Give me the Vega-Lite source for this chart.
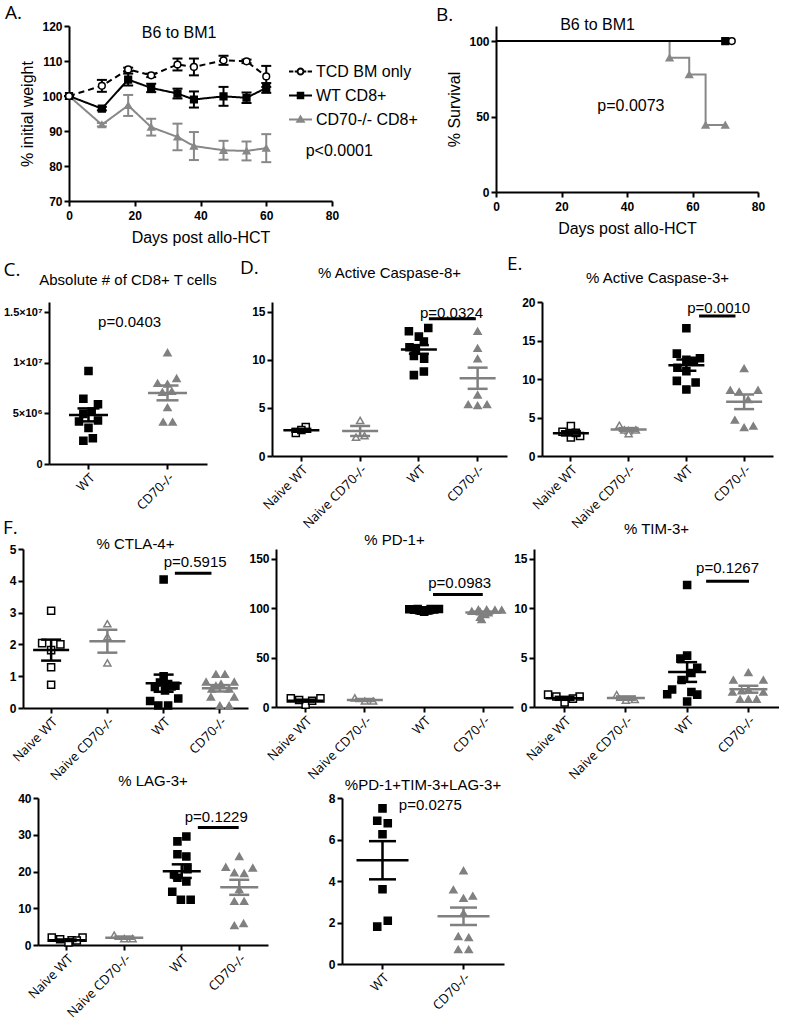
{
"$schema":"https://vega.github.io/schema/vega-lite/v6.json",
"background":"white",
"padding":{"left":0,"top":4,"right":0,"bottom":0},
"config":{
 "view":{"stroke":null},
 "axis":{"domainColor":"black","domainWidth":2,"tickColor":"black","tickWidth":2,"tickSize":5,"labelFont":"Liberation Sans","labelFontSize":12,"labelFontWeight":"bold","labelColor":"black","labelPadding":2,"labelOverlap":false,"labelFlush":false,"tickCount":20,"titleFont":"Liberation Sans","titleFontSize":16,"titleFontWeight":"normal","titleColor":"black","grid":false,"titlePadding":6},
 "title":{"font":"Liberation Sans","fontSize":15,"fontWeight":"normal","color":"black","offset":8},
 "text":{"font":"Liberation Sans","color":"black"},
 "point":{"opacity":1},
 "tick":{"opacity":1}
},
"resolve":{"scale":{"color":"independent","fill":"independent","stroke":"independent","shape":"independent","strokeDash":"independent","xOffset":"independent"}},
"datasets":{
 "weight":[
  {"g":"CD70-/- CD8+","d":0,"v":100,"e":0},{"g":"CD70-/- CD8+","d":10,"v":91.8,"e":0.5},{"g":"CD70-/- CD8+","d":18,"v":97.3,"e":3.0},{"g":"CD70-/- CD8+","d":25,"v":91.1,"e":2.4},{"g":"CD70-/- CD8+","d":33,"v":88.3,"e":3.8},{"g":"CD70-/- CD8+","d":38,"v":85.7,"e":4.0},{"g":"CD70-/- CD8+","d":47,"v":84.5,"e":2.7},{"g":"CD70-/- CD8+","d":54,"v":84.3,"e":2.7},{"g":"CD70-/- CD8+","d":60,"v":85.1,"e":4.0},
  {"g":"WT CD8+","d":0,"v":100,"e":0},{"g":"WT CD8+","d":10,"v":96.4,"e":0.5},{"g":"WT CD8+","d":18,"v":104.7,"e":1.7},{"g":"WT CD8+","d":25,"v":102.3,"e":1.2},{"g":"WT CD8+","d":33,"v":100.7,"e":1.4},{"g":"WT CD8+","d":38,"v":99.0,"e":2.3},{"g":"WT CD8+","d":47,"v":99.9,"e":2.7},{"g":"WT CD8+","d":54,"v":99.5,"e":1.5},{"g":"WT CD8+","d":60,"v":102.3,"e":1.4},
  {"g":"TCD BM only","d":0,"v":100,"e":0},{"g":"TCD BM only","d":10,"v":102.9,"e":1.7},{"g":"TCD BM only","d":18,"v":107.6,"e":0.5},{"g":"TCD BM only","d":25,"v":105.9,"e":0.5},{"g":"TCD BM only","d":33,"v":109.0,"e":1.7},{"g":"TCD BM only","d":38,"v":108.3,"e":2.4},{"g":"TCD BM only","d":47,"v":110.2,"e":1.3},{"g":"TCD BM only","d":54,"v":109.9,"e":0.5},{"g":"TCD BM only","d":60,"v":105.6,"e":3.0}
 ],
 "surv":[
  {"g":"CD70-/- CD8+","d":0,"s":100},{"g":"CD70-/- CD8+","d":53,"s":88.9},{"g":"CD70-/- CD8+","d":59,"s":77.8},{"g":"CD70-/- CD8+","d":64,"s":44.4},{"g":"CD70-/- CD8+","d":70,"s":44.4},
  {"g":"TCD BM only","d":0,"s":100},{"g":"TCD BM only","d":72,"s":100},
  {"g":"WT CD8+","d":0,"s":100},{"g":"WT CD8+","d":70,"s":100}
 ],
 "survpts":[
  {"g":"CD70-/- CD8+","d":53,"s":88.9},{"g":"CD70-/- CD8+","d":59,"s":77.8},{"g":"CD70-/- CD8+","d":64,"s":44.4},{"g":"CD70-/- CD8+","d":70,"s":44.4},
  {"g":"TCD BM only","d":72,"s":100},{"g":"WT CD8+","d":70,"s":100}
 ],
 "c_pts":[
  {"g":"WT","v":9190000,"j":0},{"g":"WT","v":6450000,"j":-0.13},{"g":"WT","v":5900000,"j":0.24},{"g":"WT","v":5170000,"j":0.08},{"g":"WT","v":4950000,"j":-0.13},{"g":"WT","v":4200000,"j":-0.24},{"g":"WT","v":4300000,"j":0.24},{"g":"WT","v":3570000,"j":0},{"g":"WT","v":2550000,"j":0.11},{"g":"WT","v":2300000,"j":-0.13},
  {"g":"CD70-/-","v":11000000,"j":0},{"g":"CD70-/-","v":7980000,"j":-0.25},{"g":"CD70-/-","v":7900000,"j":0},{"g":"CD70-/-","v":8460000,"j":0.23},{"g":"CD70-/-","v":7180000,"j":0.11},{"g":"CD70-/-","v":7090000,"j":-0.13},{"g":"CD70-/-","v":5580000,"j":0},{"g":"CD70-/-","v":4150000,"j":-0.11},{"g":"CD70-/-","v":4150000,"j":0.13}
 ],
 "c_sum":[{"g":"WT","m":4850000,"se":640000},{"g":"CD70-/-","m":7020000,"se":730000}],
 "d_pts":[
  {"g":"Naive WT","v":2.4,"j":-0.19},{"g":"Naive WT","v":3.0,"j":0.15},{"g":"Naive WT","v":2.7,"j":0},
  {"g":"Naive CD70-/-","v":3.7,"j":0},{"g":"Naive CD70-/-","v":1.95,"j":-0.14},{"g":"Naive CD70-/-","v":2.1,"j":0.15},
  {"g":"WT","v":12.96,"j":-0.34},{"g":"WT","v":13.3,"j":0.32},{"g":"WT","v":12.4,"j":0},{"g":"WT","v":11.9,"j":0.17},{"g":"WT","v":11.3,"j":-0.32},{"g":"WT","v":11.2,"j":-0.11},{"g":"WT","v":10.4,"j":-0.17},{"g":"WT","v":10.1,"j":0.18},{"g":"WT","v":8.77,"j":0.17},{"g":"WT","v":8.4,"j":-0.17},
  {"g":"CD70-/-","v":12.96,"j":0},{"g":"CD70-/-","v":11.2,"j":0},{"g":"CD70-/-","v":10.1,"j":0},{"g":"CD70-/-","v":6.35,"j":0},{"g":"CD70-/-","v":5.35,"j":-0.32},{"g":"CD70-/-","v":5.25,"j":0},{"g":"CD70-/-","v":5.35,"j":0.32}
 ],
 "d_sum":[{"g":"Naive WT","m":2.67,"se":0.15},{"g":"Naive CD70-/-","m":2.6,"se":0.52},{"g":"WT","m":11.07,"se":0.45},{"g":"CD70-/-","m":8.08,"se":1.1}],
 "e_pts":[
  {"g":"Naive WT","v":3.9,"j":0},{"g":"Naive WT","v":3.15,"j":-0.29},{"g":"Naive WT","v":2.6,"j":0.32},{"g":"Naive WT","v":2.4,"j":0},{"g":"Naive WT","v":3.0,"j":0.17},
  {"g":"Naive CD70-/-","v":4.0,"j":-0.32},{"g":"Naive CD70-/-","v":3.3,"j":0},{"g":"Naive CD70-/-","v":3.4,"j":-0.15},{"g":"Naive CD70-/-","v":2.9,"j":0},{"g":"Naive CD70-/-","v":3.4,"j":0.25},
  {"g":"WT","v":16.6,"j":0},{"g":"WT","v":13.3,"j":-0.33},{"g":"WT","v":12.7,"j":0.47},{"g":"WT","v":12.35,"j":0.26},{"g":"WT","v":12.5,"j":0},{"g":"WT","v":11.45,"j":-0.31},{"g":"WT","v":11.0,"j":0},{"g":"WT","v":9.76,"j":-0.33},{"g":"WT","v":9.55,"j":0.32},{"g":"WT","v":8.64,"j":0},
  {"g":"CD70-/-","v":11.36,"j":0},{"g":"CD70-/-","v":8.55,"j":-0.48},{"g":"CD70-/-","v":8.34,"j":-0.17},{"g":"CD70-/-","v":8.55,"j":0.48},{"g":"CD70-/-","v":7.34,"j":0.14},{"g":"CD70-/-","v":4.67,"j":-0.32},{"g":"CD70-/-","v":3.7,"j":0},{"g":"CD70-/-","v":3.9,"j":0.32}
 ],
 "e_sum":[{"g":"Naive WT","m":2.94,"se":0.27},{"g":"Naive CD70-/-","m":3.45,"se":0.18},{"g":"WT","m":11.8,"se":0.73},{"g":"CD70-/-","m":7.04,"se":0.95}],
 "ctla_pts":[
  {"g":"Naive WT","v":3.06,"j":0},{"g":"Naive WT","v":2.04,"j":-0.32},{"g":"Naive WT","v":2.0,"j":0.33},{"g":"Naive WT","v":1.82,"j":0},{"g":"Naive WT","v":1.28,"j":0},{"g":"Naive WT","v":0.73,"j":0},
  {"g":"Naive CD70-/-","v":2.65,"j":0},{"g":"Naive CD70-/-","v":2.24,"j":0},{"g":"Naive CD70-/-","v":1.42,"j":0},
  {"g":"WT","v":4.04,"j":0},{"g":"WT","v":1.0,"j":0},{"g":"WT","v":0.8,"j":-0.13},{"g":"WT","v":0.75,"j":0.16},{"g":"WT","v":0.7,"j":0.42},{"g":"WT","v":0.66,"j":-0.31},{"g":"WT","v":0.55,"j":0.05},{"g":"WT","v":0.3,"j":0.52},{"g":"WT","v":0.22,"j":-0.48},{"g":"WT","v":0.08,"j":-0.19},{"g":"WT","v":0.08,"j":0.16},{"g":"WT","v":0.68,"j":0.28},
  {"g":"CD70-/-","v":1.06,"j":-0.14},{"g":"CD70-/-","v":1.06,"j":0.18},{"g":"CD70-/-","v":0.82,"j":-0.49},{"g":"CD70-/-","v":0.82,"j":0.51},{"g":"CD70-/-","v":0.76,"j":0.04},{"g":"CD70-/-","v":0.6,"j":-0.29},{"g":"CD70-/-","v":0.6,"j":0.33},{"g":"CD70-/-","v":0.35,"j":-0.32},{"g":"CD70-/-","v":0.35,"j":0.51},{"g":"CD70-/-","v":0.08,"j":0},{"g":"CD70-/-","v":0.08,"j":0.33},{"g":"CD70-/-","v":0.7,"j":-0.14}
 ],
 "ctla_sum":[{"g":"Naive WT","m":1.82,"se":0.33},{"g":"Naive CD70-/-","m":2.1,"se":0.36},{"g":"WT","m":0.78,"se":0.27},{"g":"CD70-/-","m":0.62,"se":0.1}],
 "pd1_pts":[
  {"g":"Naive WT","v":8.7,"j":-0.5},{"g":"Naive WT","v":8.7,"j":0.5},{"g":"Naive WT","v":2.2,"j":0},{"g":"Naive WT","v":7.0,"j":-0.22},{"g":"Naive WT","v":6.4,"j":0.22},
  {"g":"Naive CD70-/-","v":9.3,"j":-0.34},{"g":"Naive CD70-/-","v":6.1,"j":0},{"g":"Naive CD70-/-","v":6.1,"j":0.28},
  {"g":"WT","v":99,"j":-0.5},{"g":"WT","v":98.5,"j":-0.34},{"g":"WT","v":98,"j":-0.17},{"g":"WT","v":97.2,"j":0},{"g":"WT","v":98,"j":0.17},{"g":"WT","v":98.7,"j":0.34},{"g":"WT","v":99.2,"j":0.5},{"g":"WT","v":99.3,"j":-0.22},{"g":"WT","v":99.1,"j":0.22},{"g":"WT","v":96.5,"j":0},{"g":"WT","v":97.6,"j":-0.11},{"g":"WT","v":97.8,"j":0.11},
  {"g":"CD70-/-","v":98.6,"j":0.11},{"g":"CD70-/-","v":98.6,"j":-0.17},{"g":"CD70-/-","v":98.4,"j":0.39},{"g":"CD70-/-","v":98.2,"j":0.62},{"g":"CD70-/-","v":97,"j":-0.39},{"g":"CD70-/-","v":96.5,"j":-0.11},{"g":"CD70-/-","v":95.5,"j":0.17},{"g":"CD70-/-","v":93.8,"j":0.06},{"g":"CD70-/-","v":91,"j":-0.11},{"g":"CD70-/-","v":88.7,"j":-0.06}
 ],
 "pd1_sum":[{"g":"Naive WT","m":6.4,"se":1.0},{"g":"Naive CD70-/-","m":7.1,"se":1.0},{"g":"WT","m":98.3,"se":0.3},{"g":"CD70-/-","m":95.6,"se":1.0}],
 "tim_pts":[
  {"g":"Naive WT","v":1.25,"j":-0.54},{"g":"Naive WT","v":1.07,"j":-0.27},{"g":"Naive WT","v":1.07,"j":0.49},{"g":"Naive WT","v":0.46,"j":0},{"g":"Naive WT","v":0.85,"j":0.27},
  {"g":"Naive CD70-/-","v":1.25,"j":-0.3},{"g":"Naive CD70-/-","v":0.7,"j":0},{"g":"Naive CD70-/-","v":0.76,"j":0.29},
  {"g":"WT","v":12.35,"j":0},{"g":"WT","v":5.2,"j":0},{"g":"WT","v":4.9,"j":-0.22},{"g":"WT","v":3.96,"j":0.33},{"g":"WT","v":3.44,"j":0.14},{"g":"WT","v":2.74,"j":-0.18},{"g":"WT","v":1.77,"j":-0.49},{"g":"WT","v":1.52,"j":0.14},{"g":"WT","v":1.25,"j":0.33},{"g":"WT","v":1.3,"j":-0.65},{"g":"WT","v":0.55,"j":0},
  {"g":"CD70-/-","v":3.5,"j":0},{"g":"CD70-/-","v":2.74,"j":-0.49},{"g":"CD70-/-","v":2.74,"j":0.49},{"g":"CD70-/-","v":1.52,"j":-0.52},{"g":"CD70-/-","v":1.52,"j":0.49},{"g":"CD70-/-","v":0.8,"j":-0.27},{"g":"CD70-/-","v":0.8,"j":0},{"g":"CD70-/-","v":0.8,"j":0.27},{"g":"CD70-/-","v":1.77,"j":0},{"g":"CD70-/-","v":1.65,"j":-0.22}
 ],
 "tim_sum":[{"g":"Naive WT","m":0.88,"se":0.15},{"g":"Naive CD70-/-","m":0.9,"se":0.17},{"g":"WT","m":3.54,"se":1.0},{"g":"CD70-/-","m":1.8,"se":0.35}],
 "lag_pts":[
  {"g":"Naive WT","v":2.0,"j":-0.52},{"g":"Naive WT","v":2.0,"j":0.55},{"g":"Naive WT","v":1.57,"j":-0.23},{"g":"Naive WT","v":1.3,"j":0.17},{"g":"Naive WT","v":0.7,"j":0.06},{"g":"Naive WT","v":1.2,"j":0.35},
  {"g":"Naive CD70-/-","v":2.7,"j":-0.35},{"g":"Naive CD70-/-","v":1.75,"j":0},{"g":"Naive CD70-/-","v":1.75,"j":0.29},
  {"g":"WT","v":29.5,"j":0.16},{"g":"WT","v":28.2,"j":-0.15},{"g":"WT","v":24.7,"j":-0.15},{"g":"WT","v":24.1,"j":0.16},{"g":"WT","v":20.6,"j":0.2},{"g":"WT","v":19.2,"j":-0.27},{"g":"WT","v":18.3,"j":-0.15},{"g":"WT","v":17.3,"j":0.16},{"g":"WT","v":14.5,"j":-0.33},{"g":"WT","v":12.3,"j":-0.03},{"g":"WT","v":12.3,"j":0.31},
  {"g":"CD70-/-","v":24.1,"j":0},{"g":"CD70-/-","v":21.2,"j":-0.47},{"g":"CD70-/-","v":21.0,"j":0.47},{"g":"CD70-/-","v":19.7,"j":-0.17},{"g":"CD70-/-","v":19.5,"j":0.17},{"g":"CD70-/-","v":15.1,"j":0},{"g":"CD70-/-","v":11.9,"j":-0.17},{"g":"CD70-/-","v":11.9,"j":0.17},{"g":"CD70-/-","v":5.3,"j":-0.17},{"g":"CD70-/-","v":5.9,"j":0.15}
 ],
 "lag_sum":[{"g":"Naive WT","m":1.3,"se":0.2},{"g":"Naive CD70-/-","m":2.0,"se":0.3},{"g":"WT","m":20.1,"se":1.85},{"g":"CD70-/-","m":15.7,"se":2.05}],
 "tri_pts":[
  {"g":"WT","v":7.5,"j":0},{"g":"WT","v":6.9,"j":-0.13},{"g":"WT","v":6.78,"j":0.13},{"g":"WT","v":6.25,"j":0},{"g":"WT","v":3.6,"j":0},{"g":"WT","v":2.08,"j":0.13},{"g":"WT","v":1.8,"j":-0.13},
  {"g":"CD70-/-","v":4.5,"j":0},{"g":"CD70-/-","v":3.58,"j":-0.25},{"g":"CD70-/-","v":3.17,"j":0},{"g":"CD70-/-","v":3.28,"j":0.23},{"g":"CD70-/-","v":2.45,"j":0},{"g":"CD70-/-","v":1.33,"j":-0.13},{"g":"CD70-/-","v":1.28,"j":0.13},{"g":"CD70-/-","v":0.7,"j":-0.13},{"g":"CD70-/-","v":0.7,"j":0.13}
 ],
 "tri_sum":[{"g":"WT","m":5.0,"se":0.92},{"g":"CD70-/-","m":2.3,"se":0.42}]
},
"spacing":10,
"vconcat":[
 {"spacing":0,"resolve":{"scale":{"color":"independent","fill":"independent","stroke":"independent","shape":"independent","strokeDash":"independent","xOffset":"independent"}},"hconcat":[
  {"width":5,"height":1,"data":{"values":[]},"mark":"point","view":{"fill":"white","stroke":null}},
  {"hconcat":[
   {"width":263,"height":175,
    "title":{"text":"A.","anchor":"start","frame":"bounds","font":"Open Sans","fontSize":19,"dx":-14,"offset":-3},
    "resolve":{"scale":{"shape":"independent","fill":"independent","stroke":"independent"}},
    "layer":[
     {"data":{"name":"weight"},"mark":{"type":"line","strokeWidth":2},
      "encoding":{"x":{"field":"d","type":"quantitative","scale":{"domain":[0,80]},"axis":{"values":[0,20,40,60,80],"labelPadding":4,"titlePadding":8,"format":"d"},"title":"Days post allo-HCT"},
       "y":{"field":"v","type":"quantitative","scale":{"domain":[70,120]},"axis":{"values":[70,80,90,100,110,120],"format":"d","minExtent":28,"titlePadding":6,"labelOverlap":false,"tickCount":20},"title":"% initial weight"},
       "color":{"field":"g","type":"nominal","scale":{"domain":["TCD BM only","WT CD8+","CD70-/- CD8+"],"range":["black","black","#888888"]},"legend":null},
       "strokeDash":{"field":"g","type":"nominal","scale":{"domain":["TCD BM only","WT CD8+","CD70-/- CD8+"],"range":[[6,4],[1,0],[1,0]]},"legend":null}}},
     {"data":{"name":"weight"},"mark":{"type":"errorbar","thickness":2,"ticks":{"size":10,"thickness":2}},
      "encoding":{"x":{"field":"d","type":"quantitative","title":"Days post allo-HCT"},"y":{"field":"v","type":"quantitative","title":"% initial weight"},"yError":{"field":"e"},
       "color":{"field":"g","type":"nominal","legend":null}}},
     {"data":{"name":"weight"},"mark":{"type":"point","size":45,"strokeWidth":1.5},
      "encoding":{"x":{"field":"d","type":"quantitative","title":"Days post allo-HCT"},"y":{"field":"v","type":"quantitative","title":"% initial weight"},
       "shape":{"field":"g","type":"nominal","scale":{"domain":["TCD BM only","WT CD8+","CD70-/- CD8+"],"range":["circle","square","triangle-up"]},"legend":null},
       "fill":{"field":"g","type":"nominal","scale":{"domain":["TCD BM only","WT CD8+","CD70-/- CD8+"],"range":["white","black","#888888"]},"legend":null},
       "stroke":{"field":"g","type":"nominal","scale":{"domain":["TCD BM only","WT CD8+","CD70-/- CD8+"],"range":["black","black","#888888"]},"legend":null}}},
     {"data":{"values":[{}]},"mark":{"type":"text","fontSize":16},"encoding":{"x":{"datum":33.5},"y":{"datum":118},"text":{"value":"B6 to BM1"}}},
     {"data":{"values":[{}]},"mark":{"type":"text","fontSize":16,"align":"left"},"encoding":{"x":{"datum":72},"y":{"datum":84.3},"text":{"value":"p<0.0001"}}},
     {"data":{"values":[]},"mark":{"type":"point","strokeWidth":2},
      "encoding":{
       "shape":{"field":"g","type":"nominal","scale":{"domain":["TCD BM only","WT CD8+","CD70-/- CD8+"],"range":["M-1,0H-0.62M-0.5,0H-0.28M0.28,0H0.5M0.62,0H1M0.26,0A0.26,0.26,0,1,1,-0.26,0A0.26,0.26,0,1,1,0.26,0Z","M-1,0H1M-0.24,-0.24H0.24V0.24H-0.24Z","M-1,0H1M0,-0.27L0.28,0.2H-0.28Z"]},
        "legend":{"title":null,"orient":"none","legendX":219,"legendY":33,"symbolSize":529,"symbolStrokeWidth":2,"labelFont":"Liberation Sans","labelFontSize":16,"labelColor":"black","labelOffset":3,"rowPadding":3}},
       "fill":{"field":"g","type":"nominal","scale":{"domain":["TCD BM only","WT CD8+","CD70-/- CD8+"],"range":["white","black","#888888"]},
        "legend":{"title":null,"orient":"none","legendX":219,"legendY":33,"symbolSize":529,"symbolStrokeWidth":2,"labelFont":"Liberation Sans","labelFontSize":16,"labelColor":"black","labelOffset":3,"rowPadding":3}},
       "stroke":{"field":"g","type":"nominal","scale":{"domain":["TCD BM only","WT CD8+","CD70-/- CD8+"],"range":["black","black","#888888"]},
        "legend":{"title":null,"orient":"none","legendX":219,"legendY":33,"symbolSize":529,"symbolStrokeWidth":2,"labelFont":"Liberation Sans","labelFontSize":16,"labelColor":"black","labelOffset":3,"rowPadding":3}}}}
    ]},
   {"width":262,"height":166,
    "title":{"text":"B.","anchor":"start","frame":"bounds","font":"Open Sans","fontSize":19,"dx":-11,"offset":-8},
    "layer":[
     {"data":{"name":"surv"},"transform":[{"filter":"datum.g == 'CD70-/- CD8+'"}],"mark":{"type":"line","interpolate":"step-after","strokeWidth":2,"color":"#888888"},
      "encoding":{"x":{"field":"d","type":"quantitative","scale":{"domain":[0,80]},"axis":{"values":[0,20,40,60,80],"labelPadding":4,"titlePadding":8,"format":"d"},"title":"Days post allo-HCT"},
       "y":{"field":"s","type":"quantitative","scale":{"domain":[0,105]},"axis":{"values":[0,50,100],"format":"d","minExtent":26,"titlePadding":6,"labelOverlap":false,"tickCount":20},"title":"% Survival"},
       "detail":{"field":"g"}}},
     {"data":{"name":"surv"},"transform":[{"filter":"datum.g != 'CD70-/- CD8+'"}],"mark":{"type":"line","interpolate":"step-after","strokeWidth":2,"color":"black"},
      "encoding":{"x":{"field":"d","type":"quantitative","title":"Days post allo-HCT"},"y":{"field":"s","type":"quantitative","title":"% Survival"},"detail":{"field":"g"}}},
     {"data":{"name":"survpts"},"mark":{"type":"point","size":45,"strokeWidth":1.5},
      "encoding":{"x":{"field":"d","type":"quantitative","title":"Days post allo-HCT"},"y":{"field":"s","type":"quantitative","title":"% Survival"},
       "shape":{"field":"g","type":"nominal","scale":{"domain":["TCD BM only","WT CD8+","CD70-/- CD8+"],"range":["circle","square","triangle-up"]},"legend":null},
       "fill":{"field":"g","type":"nominal","scale":{"domain":["TCD BM only","WT CD8+","CD70-/- CD8+"],"range":["white","black","#888888"]},"legend":null},
       "stroke":{"field":"g","type":"nominal","scale":{"domain":["TCD BM only","WT CD8+","CD70-/- CD8+"],"range":["black","black","#888888"]},"legend":null}}},
     {"data":{"values":[{}]},"mark":{"type":"text","fontSize":16},"encoding":{"x":{"datum":31},"y":{"datum":110.9},"text":{"value":"B6 to BM1"}}},
     {"data":{"values":[{}]},"mark":{"type":"text","fontSize":16},"encoding":{"x":{"datum":41.2},"y":{"datum":57.2},"text":{"value":"p=0.0073"}}}
    ]}
  ],"spacing":17,"resolve":{"scale":{"color":"independent","fill":"independent","stroke":"independent","shape":"independent","strokeDash":"independent","xOffset":"independent"}}}
 ]},
 {"spacing":-12,"resolve":{"scale":{"color":"independent","fill":"independent","stroke":"independent","shape":"independent","xOffset":"independent"}},"vconcat":[
  {"spacing":0,"resolve":{"scale":{"color":"independent","fill":"independent","stroke":"independent","shape":"independent","xOffset":"independent"}},"hconcat":[
   {"width":3,"height":1,"data":{"values":[]},"mark":"point","view":{"fill":"white","stroke":null}},
   {"spacing":22,"resolve":{"scale":{"color":"independent","fill":"independent","stroke":"independent","shape":"independent","xOffset":"independent"}},"hconcat":[
    {"title":{"text":"C.","anchor":"start","frame":"bounds","font":"Open Sans","fontSize":19,"offset":-7},
     "resolve":{"scale":{"color":"independent","fill":"independent","stroke":"independent","shape":"independent","xOffset":"independent"}},
     "hconcat":[
     {"width":158,"height":162,"title":{"text":"Absolute # of CD8+ T cells","offset":14},
      "layer":[
       {"data":{"name":"c_pts"},"mark":{"type":"point","size":50,"strokeWidth":1.5},
        "encoding":{"x":{"field":"g","type":"nominal","scale":{"type":"band","domain":["WT","CD70-/-"],"paddingInner":0,"paddingOuter":0},"axis":{"labelAngle":-45,"labelFont":"Open Sans","labelFontWeight":"normal","labelFontSize":13},"title":null},
         "xOffset":{"field":"j","type":"quantitative","scale":{"domain":[-1,1]}},
         "y":{"field":"v","type":"quantitative","scale":{"domain":[0,15000000]},"axis":{"values":[0,5000000,10000000,15000000],"minExtent":44,"labelOverlap":false,"tickCount":20,"labelFontSize":11,"labelExpr":"datum.value == 0 ? '0' : datum.value == 5000000 ? '5×10⁶' : datum.value == 10000000 ? '1×10⁷' : '1.5×10⁷'"},"title":null},
         "shape":{"field":"g","type":"nominal","scale":{"domain":["Naive WT","Naive CD70-/-","WT","CD70-/-"],"range":["square","triangle-up","square","triangle-up"]},"legend":null},
         "fill":{"field":"g","type":"nominal","scale":{"domain":["Naive WT","Naive CD70-/-","WT","CD70-/-"],"range":["white","white","black","#808080"]},"legend":null},
         "stroke":{"field":"g","type":"nominal","scale":{"domain":["Naive WT","Naive CD70-/-","WT","CD70-/-"],"range":["black","#808080","black","#808080"]},"legend":null}}},
       {"data":{"name":"c_sum"},"mark":{"type":"errorbar","thickness":2.5,"ticks":{"size":22,"thickness":2.5}},
        "encoding":{"x":{"field":"g","type":"nominal","title":null},"y":{"field":"m","type":"quantitative","title":null},"yError":{"field":"se"},
         "color":{"field":"g","type":"nominal","scale":{"domain":["Naive WT","Naive CD70-/-","WT","CD70-/-"],"range":["black","#808080","black","#808080"]},"legend":null}}},
       {"data":{"name":"c_sum"},"mark":{"type":"tick","size":39,"thickness":2.5},
        "encoding":{"x":{"field":"g","type":"nominal","title":null},"y":{"field":"m","type":"quantitative","title":null},"color":{"field":"g","type":"nominal","legend":null}}},
       {"data":{"values":[{}]},"mark":{"type":"text","fontSize":15},"encoding":{"x":{"datum":"CD70-/-","bandPosition":0.02},"y":{"datum":14040000},"text":{"value":"p=0.0403"}}}
      ]}]},
    {"spacing":0,"resolve":{"scale":{"color":"independent","fill":"independent","stroke":"independent","shape":"independent","xOffset":"independent"}},"hconcat":[
     {"title":{"text":"D.","anchor":"start","frame":"bounds","font":"Open Sans","fontSize":19,"offset":-12,"dx":-11},
      "resolve":{"scale":{"color":"independent","fill":"independent","stroke":"independent","shape":"independent","xOffset":"independent"}},
      "hconcat":[
      {"width":235,"height":154,"title":{"text":"% Active Caspase-8+","offset":21},
       "layer":[
        {"data":{"name":"d_pts"},"mark":{"type":"point","size":50,"strokeWidth":1.5},
         "encoding":{"x":{"field":"g","type":"nominal","scale":{"type":"band","domain":["Naive WT","Naive CD70-/-","WT","CD70-/-"],"paddingInner":0,"paddingOuter":0},"axis":{"labelAngle":-45,"labelFont":"Open Sans","labelFontWeight":"normal","labelFontSize":13},"title":null},
          "xOffset":{"field":"j","type":"quantitative","scale":{"domain":[-1,1]}},
          "y":{"field":"v","type":"quantitative","scale":{"domain":[0,15]},"axis":{"values":[0,5,10,15],"format":"d","minExtent":21,"labelOverlap":false,"tickCount":20},"title":null},
          "shape":{"field":"g","type":"nominal","scale":{"domain":["Naive WT","Naive CD70-/-","WT","CD70-/-"],"range":["square","triangle-up","square","triangle-up"]},"legend":null},
          "fill":{"field":"g","type":"nominal","scale":{"domain":["Naive WT","Naive CD70-/-","WT","CD70-/-"],"range":["white","white","black","#808080"]},"legend":null},
          "stroke":{"field":"g","type":"nominal","scale":{"domain":["Naive WT","Naive CD70-/-","WT","CD70-/-"],"range":["black","#808080","black","#808080"]},"legend":null}}},
        {"data":{"name":"d_sum"},"mark":{"type":"errorbar","thickness":2.5,"ticks":{"size":20,"thickness":2.5}},
         "encoding":{"x":{"field":"g","type":"nominal","title":null},"y":{"field":"m","type":"quantitative","title":null},"yError":{"field":"se"},
          "color":{"field":"g","type":"nominal","scale":{"domain":["Naive WT","Naive CD70-/-","WT","CD70-/-"],"range":["black","#808080","black","#808080"]},"legend":null}}},
        {"data":{"name":"d_sum"},"mark":{"type":"tick","size":36,"thickness":2.5},
         "encoding":{"x":{"field":"g","type":"nominal","title":null},"y":{"field":"m","type":"quantitative","title":null},"color":{"field":"g","type":"nominal","legend":null}}},
        {"data":{"values":[{}]},"mark":{"type":"rule","strokeWidth":3,"color":"black"},"encoding":{"x":{"datum":"WT","bandPosition":0.67},"x2":{"datum":"CD70-/-","bandPosition":0.47},"y":{"datum":14.27}}},
        {"data":{"values":[{}]},"mark":{"type":"text","fontSize":15},"encoding":{"x":{"datum":"CD70-/-","bandPosition":0.055},"y":{"datum":14.84},"text":{"value":"p=0.0324"}}}
       ]}]},
     {"title":{"text":"E.","anchor":"start","frame":"bounds","font":"Open Sans","fontSize":19,"offset":-3,"dx":-14},
      "resolve":{"scale":{"color":"independent","fill":"independent","stroke":"independent","shape":"independent","xOffset":"independent"}},
      "hconcat":[
      {"width":231,"height":154,"title":{"text":"% Active Caspase-3+","offset":10},
       "layer":[
        {"data":{"name":"e_pts"},"mark":{"type":"point","size":50,"strokeWidth":1.5},
         "encoding":{"x":{"field":"g","type":"nominal","scale":{"type":"band","domain":["Naive WT","Naive CD70-/-","WT","CD70-/-"],"paddingInner":0,"paddingOuter":0},"axis":{"labelAngle":-45,"labelFont":"Open Sans","labelFontWeight":"normal","labelFontSize":13},"title":null},
          "xOffset":{"field":"j","type":"quantitative","scale":{"domain":[-1,1]}},
          "y":{"field":"v","type":"quantitative","scale":{"domain":[0,20]},"axis":{"values":[0,5,10,15,20],"format":"d","minExtent":21,"labelOverlap":false,"tickCount":20},"title":null},
          "shape":{"field":"g","type":"nominal","scale":{"domain":["Naive WT","Naive CD70-/-","WT","CD70-/-"],"range":["square","triangle-up","square","triangle-up"]},"legend":null},
          "fill":{"field":"g","type":"nominal","scale":{"domain":["Naive WT","Naive CD70-/-","WT","CD70-/-"],"range":["white","white","black","#808080"]},"legend":null},
          "stroke":{"field":"g","type":"nominal","scale":{"domain":["Naive WT","Naive CD70-/-","WT","CD70-/-"],"range":["black","#808080","black","#808080"]},"legend":null}}},
        {"data":{"name":"e_sum"},"mark":{"type":"errorbar","thickness":2.5,"ticks":{"size":20,"thickness":2.5}},
         "encoding":{"x":{"field":"g","type":"nominal","title":null},"y":{"field":"m","type":"quantitative","title":null},"yError":{"field":"se"},
          "color":{"field":"g","type":"nominal","scale":{"domain":["Naive WT","Naive CD70-/-","WT","CD70-/-"],"range":["black","#808080","black","#808080"]},"legend":null}}},
        {"data":{"name":"e_sum"},"mark":{"type":"tick","size":36,"thickness":2.5},
         "encoding":{"x":{"field":"g","type":"nominal","title":null},"y":{"field":"m","type":"quantitative","title":null},"color":{"field":"g","type":"nominal","legend":null}}},
        {"data":{"values":[{}]},"mark":{"type":"rule","strokeWidth":3,"color":"black"},"encoding":{"x":{"datum":"WT","bandPosition":0.72},"x2":{"datum":"CD70-/-","bandPosition":0.35},"y":{"datum":18.18}}},
        {"data":{"values":[{}]},"mark":{"type":"text","fontSize":15},"encoding":{"x":{"datum":"CD70-/-","bandPosition":0.06},"y":{"datum":19.17},"text":{"value":"p=0.0010"}}}
       ]}]}
    ]}
   ]}
  ]},
  {"spacing":-9,"resolve":{"scale":{"color":"independent","fill":"independent","stroke":"independent","shape":"independent","xOffset":"independent"}},"vconcat":[
   {"spacing":0,"resolve":{"scale":{"color":"independent","fill":"independent","stroke":"independent","shape":"independent","xOffset":"independent"}},"hconcat":[
    {"width":3,"height":1,"data":{"values":[]},"mark":"point","view":{"fill":"white","stroke":null}},
    {"title":{"text":"F.","anchor":"start","frame":"bounds","font":"Open Sans","fontSize":19,"offset":-16},
     "spacing":0,
     "resolve":{"scale":{"color":"independent","fill":"independent","stroke":"independent","shape":"independent","xOffset":"independent"}},
     "hconcat":[
     {"width":225,"height":159,"title":{"text":"% CTLA-4+","offset":-9},
      "layer":[
       {"data":{"name":"ctla_pts"},"mark":{"type":"point","size":50,"strokeWidth":1.5},
        "encoding":{"x":{"field":"g","type":"nominal","scale":{"type":"band","domain":["Naive WT","Naive CD70-/-","WT","CD70-/-"],"paddingInner":0,"paddingOuter":0},"axis":{"labelAngle":-45,"labelFont":"Open Sans","labelFontWeight":"normal","labelFontSize":13},"title":null},
         "xOffset":{"field":"j","type":"quantitative","scale":{"domain":[-1,1]}},
         "y":{"field":"v","type":"quantitative","scale":{"domain":[0,5]},"axis":{"values":[0,1,2,3,4,5],"format":"d","minExtent":20,"labelOverlap":false,"tickCount":20},"title":null},
         "shape":{"field":"g","type":"nominal","scale":{"domain":["Naive WT","Naive CD70-/-","WT","CD70-/-"],"range":["square","triangle-up","square","triangle-up"]},"legend":null},
         "fill":{"field":"g","type":"nominal","scale":{"domain":["Naive WT","Naive CD70-/-","WT","CD70-/-"],"range":["white","white","black","#808080"]},"legend":null},
         "stroke":{"field":"g","type":"nominal","scale":{"domain":["Naive WT","Naive CD70-/-","WT","CD70-/-"],"range":["black","#808080","black","#808080"]},"legend":null}}},
       {"data":{"name":"ctla_sum"},"mark":{"type":"errorbar","thickness":2.5,"ticks":{"size":20,"thickness":2.5}},
        "encoding":{"x":{"field":"g","type":"nominal","title":null},"y":{"field":"m","type":"quantitative","title":null},"yError":{"field":"se"},
         "color":{"field":"g","type":"nominal","scale":{"domain":["Naive WT","Naive CD70-/-","WT","CD70-/-"],"range":["black","#808080","black","#808080"]},"legend":null}}},
       {"data":{"name":"ctla_sum"},"mark":{"type":"tick","size":36,"thickness":2.5},
        "encoding":{"x":{"field":"g","type":"nominal","title":null},"y":{"field":"m","type":"quantitative","title":null},"color":{"field":"g","type":"nominal","legend":null}}},
       {"data":{"values":[{}]},"mark":{"type":"rule","strokeWidth":3,"color":"black"},"encoding":{"x":{"datum":"WT","bandPosition":0.7},"x2":{"datum":"CD70-/-","bandPosition":0.35},"y":{"datum":4.24}}},
       {"data":{"values":[{}]},"mark":{"type":"text","fontSize":15},"encoding":{"x":{"datum":"CD70-/-","bandPosition":0.06},"y":{"datum":4.58},"text":{"value":"p=0.5915"}}}
      ]},
     {"width":237,"height":158,"title":{"text":"% PD-1+","offset":1},
      "layer":[
       {"data":{"name":"pd1_pts"},"mark":{"type":"point","size":50,"strokeWidth":1.5},
        "encoding":{"x":{"field":"g","type":"nominal","scale":{"type":"band","domain":["Naive WT","Naive CD70-/-","WT","CD70-/-"],"paddingInner":0,"paddingOuter":0},"axis":{"labelAngle":-45,"labelFont":"Open Sans","labelFontWeight":"normal","labelFontSize":13},"title":null},
         "xOffset":{"field":"j","type":"quantitative","scale":{"domain":[-1,1]}},
         "y":{"field":"v","type":"quantitative","scale":{"domain":[0,150]},"axis":{"values":[0,50,100,150],"format":"d","minExtent":25,"labelOverlap":false,"tickCount":20},"title":null},
         "shape":{"field":"g","type":"nominal","scale":{"domain":["Naive WT","Naive CD70-/-","WT","CD70-/-"],"range":["square","triangle-up","square","triangle-up"]},"legend":null},
         "fill":{"field":"g","type":"nominal","scale":{"domain":["Naive WT","Naive CD70-/-","WT","CD70-/-"],"range":["white","white","black","#808080"]},"legend":null},
         "stroke":{"field":"g","type":"nominal","scale":{"domain":["Naive WT","Naive CD70-/-","WT","CD70-/-"],"range":["black","#808080","black","#808080"]},"legend":null}}},
       {"data":{"name":"pd1_sum"},"mark":{"type":"errorbar","thickness":2.5,"ticks":{"size":20,"thickness":2.5}},
        "encoding":{"x":{"field":"g","type":"nominal","title":null},"y":{"field":"m","type":"quantitative","title":null},"yError":{"field":"se"},
         "color":{"field":"g","type":"nominal","scale":{"domain":["Naive WT","Naive CD70-/-","WT","CD70-/-"],"range":["black","#808080","black","#808080"]},"legend":null}}},
       {"data":{"name":"pd1_sum"},"mark":{"type":"tick","size":36,"thickness":2.5},
        "encoding":{"x":{"field":"g","type":"nominal","title":null},"y":{"field":"m","type":"quantitative","title":null},"color":{"field":"g","type":"nominal","legend":null}}},
       {"data":{"values":[{}]},"mark":{"type":"rule","strokeWidth":3,"color":"black"},"encoding":{"x":{"datum":"WT","bandPosition":0.65},"x2":{"datum":"CD70-/-","bandPosition":0.49},"y":{"datum":114}}},
       {"data":{"values":[{}]},"mark":{"type":"text","fontSize":15},"encoding":{"x":{"datum":"CD70-/-","bandPosition":0.1},"y":{"datum":125.9},"text":{"value":"p=0.0983"}}}
      ]},
     {"width":245,"height":158,"title":{"text":"% TIM-3+","offset":12},
      "layer":[
       {"data":{"name":"tim_pts"},"mark":{"type":"point","size":50,"strokeWidth":1.5},
        "encoding":{"x":{"field":"g","type":"nominal","scale":{"type":"band","domain":["Naive WT","Naive CD70-/-","WT","CD70-/-"],"paddingInner":0,"paddingOuter":0},"axis":{"labelAngle":-45,"labelFont":"Open Sans","labelFontWeight":"normal","labelFontSize":13},"title":null},
         "xOffset":{"field":"j","type":"quantitative","scale":{"domain":[-1,1]}},
         "y":{"field":"v","type":"quantitative","scale":{"domain":[0,15]},"axis":{"values":[0,5,10,15],"format":"d","minExtent":21,"labelOverlap":false,"tickCount":20},"title":null},
         "shape":{"field":"g","type":"nominal","scale":{"domain":["Naive WT","Naive CD70-/-","WT","CD70-/-"],"range":["square","triangle-up","square","triangle-up"]},"legend":null},
         "fill":{"field":"g","type":"nominal","scale":{"domain":["Naive WT","Naive CD70-/-","WT","CD70-/-"],"range":["white","white","black","#808080"]},"legend":null},
         "stroke":{"field":"g","type":"nominal","scale":{"domain":["Naive WT","Naive CD70-/-","WT","CD70-/-"],"range":["black","#808080","black","#808080"]},"legend":null}}},
       {"data":{"name":"tim_sum"},"mark":{"type":"errorbar","thickness":2.5,"ticks":{"size":20,"thickness":2.5}},
        "encoding":{"x":{"field":"g","type":"nominal","title":null},"y":{"field":"m","type":"quantitative","title":null},"yError":{"field":"se"},
         "color":{"field":"g","type":"nominal","scale":{"domain":["Naive WT","Naive CD70-/-","WT","CD70-/-"],"range":["black","#808080","black","#808080"]},"legend":null}}},
       {"data":{"name":"tim_sum"},"mark":{"type":"tick","size":38,"thickness":2.5},
        "encoding":{"x":{"field":"g","type":"nominal","title":null},"y":{"field":"m","type":"quantitative","title":null},"color":{"field":"g","type":"nominal","legend":null}}},
       {"data":{"values":[{}]},"mark":{"type":"rule","strokeWidth":3,"color":"black"},"encoding":{"x":{"datum":"WT","bandPosition":0.81},"x2":{"datum":"CD70-/-","bandPosition":0.51},"y":{"datum":12.73}}},
       {"data":{"values":[{}]},"mark":{"type":"text","fontSize":15},"encoding":{"x":{"datum":"CD70-/-","bandPosition":0.16},"y":{"datum":14.1},"text":{"value":"p=0.1267"}}}
      ]}
    ]}
   ]},
   {"spacing":0,"resolve":{"scale":{"color":"independent","fill":"independent","stroke":"independent","shape":"independent","xOffset":"independent"}},"hconcat":[
    {"width":3,"height":1,"data":{"values":[]},"mark":"point","view":{"fill":"white","stroke":null}},
    {"spacing":60,"resolve":{"scale":{"color":"independent","fill":"independent","stroke":"independent","shape":"independent","xOffset":"independent"}},"hconcat":[
     {"width":230,"height":147,"title":{"text":"% LAG-3+","offset":3},
      "layer":[
       {"data":{"name":"lag_pts"},"mark":{"type":"point","size":50,"strokeWidth":1.5},
        "encoding":{"x":{"field":"g","type":"nominal","scale":{"type":"band","domain":["Naive WT","Naive CD70-/-","WT","CD70-/-"],"paddingInner":0,"paddingOuter":0},"axis":{"labelAngle":-45,"labelFont":"Open Sans","labelFontWeight":"normal","labelFontSize":13},"title":null},
         "xOffset":{"field":"j","type":"quantitative","scale":{"domain":[-1,1]}},
         "y":{"field":"v","type":"quantitative","scale":{"domain":[0,40]},"axis":{"values":[0,10,20,30,40],"format":"d","minExtent":35,"labelOverlap":false,"tickCount":20},"title":null},
         "shape":{"field":"g","type":"nominal","scale":{"domain":["Naive WT","Naive CD70-/-","WT","CD70-/-"],"range":["square","triangle-up","square","triangle-up"]},"legend":null},
         "fill":{"field":"g","type":"nominal","scale":{"domain":["Naive WT","Naive CD70-/-","WT","CD70-/-"],"range":["white","white","black","#808080"]},"legend":null},
         "stroke":{"field":"g","type":"nominal","scale":{"domain":["Naive WT","Naive CD70-/-","WT","CD70-/-"],"range":["black","#808080","black","#808080"]},"legend":null}}},
       {"data":{"name":"lag_sum"},"mark":{"type":"errorbar","thickness":2.5,"ticks":{"size":20,"thickness":2.5}},
        "encoding":{"x":{"field":"g","type":"nominal","title":null},"y":{"field":"m","type":"quantitative","title":null},"yError":{"field":"se"},
         "color":{"field":"g","type":"nominal","scale":{"domain":["Naive WT","Naive CD70-/-","WT","CD70-/-"],"range":["black","#808080","black","#808080"]},"legend":null}}},
       {"data":{"name":"lag_sum"},"mark":{"type":"tick","size":38,"thickness":2.5},
        "encoding":{"x":{"field":"g","type":"nominal","title":null},"y":{"field":"m","type":"quantitative","title":null},"color":{"field":"g","type":"nominal","legend":null}}},
       {"data":{"values":[{}]},"mark":{"type":"rule","strokeWidth":3,"color":"black"},"encoding":{"x":{"datum":"WT","bandPosition":0.78},"x2":{"datum":"CD70-/-","bandPosition":0.49},"y":{"datum":32.0}}},
       {"data":{"values":[{}]},"mark":{"type":"text","fontSize":15},"encoding":{"x":{"datum":"CD70-/-","bandPosition":0.1},"y":{"datum":34.9},"text":{"value":"p=0.1229"}}}
      ]},
     {"width":162,"height":166,"title":{"text":"%PD-1+TIM-3+LAG-3+","offset":-1},
      "layer":[
       {"data":{"name":"tri_pts"},"mark":{"type":"point","size":50,"strokeWidth":1.5},
        "encoding":{"x":{"field":"g","type":"nominal","scale":{"type":"band","domain":["WT","CD70-/-"],"paddingInner":0,"paddingOuter":0},"axis":{"labelAngle":-45,"labelFont":"Open Sans","labelFontWeight":"normal","labelFontSize":13},"title":null},
         "xOffset":{"field":"j","type":"quantitative","scale":{"domain":[-1,1]}},
         "y":{"field":"v","type":"quantitative","scale":{"domain":[0,8]},"axis":{"values":[0,2,4,6,8],"format":"d","minExtent":14,"labelOverlap":false,"tickCount":20},"title":null},
         "shape":{"field":"g","type":"nominal","scale":{"domain":["Naive WT","Naive CD70-/-","WT","CD70-/-"],"range":["square","triangle-up","square","triangle-up"]},"legend":null},
         "fill":{"field":"g","type":"nominal","scale":{"domain":["Naive WT","Naive CD70-/-","WT","CD70-/-"],"range":["white","white","black","#808080"]},"legend":null},
         "stroke":{"field":"g","type":"nominal","scale":{"domain":["Naive WT","Naive CD70-/-","WT","CD70-/-"],"range":["black","#808080","black","#808080"]},"legend":null}}},
       {"data":{"name":"tri_sum"},"mark":{"type":"errorbar","thickness":2.5,"ticks":{"size":27,"thickness":2.5}},
        "encoding":{"x":{"field":"g","type":"nominal","title":null},"y":{"field":"m","type":"quantitative","title":null},"yError":{"field":"se"},
         "color":{"field":"g","type":"nominal","scale":{"domain":["Naive WT","Naive CD70-/-","WT","CD70-/-"],"range":["black","#808080","black","#808080"]},"legend":null}}},
       {"data":{"name":"tri_sum"},"mark":{"type":"tick","size":52,"thickness":2.5},
        "encoding":{"x":{"field":"g","type":"nominal","title":null},"y":{"field":"m","type":"quantitative","title":null},"color":{"field":"g","type":"nominal","legend":null}}},
       {"data":{"values":[{}]},"mark":{"type":"text","fontSize":15},"encoding":{"x":{"datum":"CD70-/-","bandPosition":0.09},"y":{"datum":7.67},"text":{"value":"p=0.0275"}}}
      ]}
    ]}
   ]}
  ]}
 ]}
]
}
